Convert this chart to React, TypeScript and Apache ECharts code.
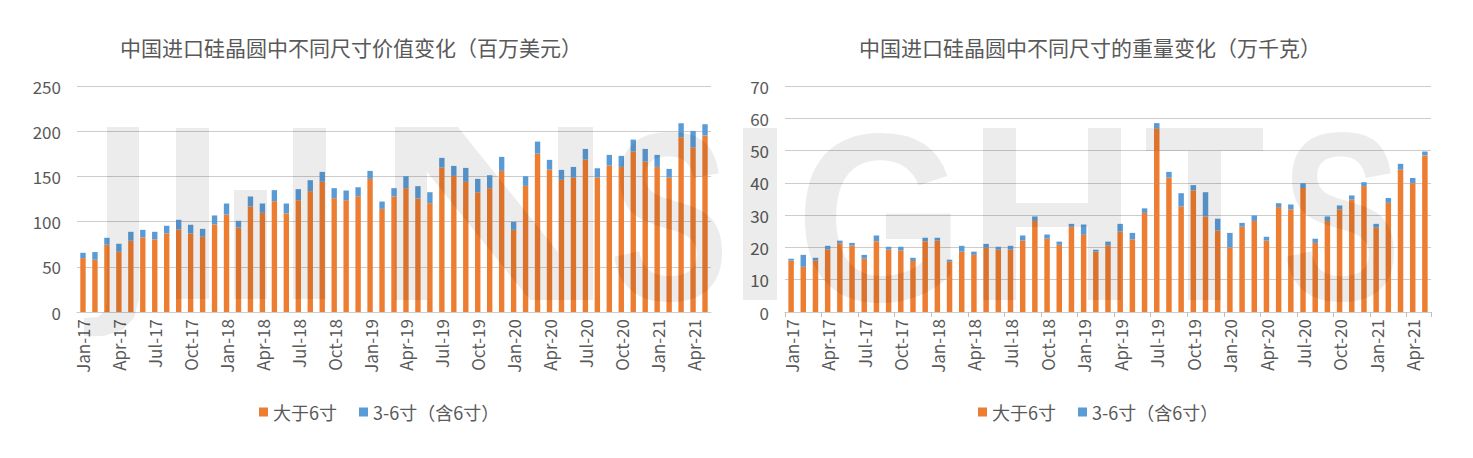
import React, { useEffect, useRef } from "react";
import * as echarts from "echarts";

const months = [
  "Jan-17","Feb-17","Mar-17","Apr-17","May-17","Jun-17","Jul-17","Aug-17","Sep-17","Oct-17","Nov-17","Dec-17",
  "Jan-18","Feb-18","Mar-18","Apr-18","May-18","Jun-18","Jul-18","Aug-18","Sep-18","Oct-18","Nov-18","Dec-18",
  "Jan-19","Feb-19","Mar-19","Apr-19","May-19","Jun-19","Jul-19","Aug-19","Sep-19","Oct-19","Nov-19","Dec-19",
  "Jan-20","Feb-20","Mar-20","Apr-20","May-20","Jun-20","Jul-20","Aug-20","Sep-20","Oct-20","Nov-20","Dec-20",
  "Jan-21","Feb-21","Mar-21","Apr-21","May-21",
];

const seriesNames = ["大于6寸", "3-6寸（含6寸）"];

// 价值（百万美元）
const valueLarge = [
  59.6, 57.8, 74.4, 66.6, 78.8, 82.5, 80.3, 86.9, 91.3, 86.9, 83.2, 96.8,
  107.9, 93.5, 116.7, 109.7, 122.6, 109.0, 123.7, 133.7, 144.0, 125.9, 123.7, 128.1,
  147.3, 114.1, 127.8, 137.0, 125.6, 120.4, 159.8, 150.6, 144.0, 132.5, 137.0, 156.1,
  90.9, 139.5, 175.3, 157.6, 146.2, 148.7, 168.6, 148.7, 162.0, 160.5, 177.5, 166.4,
  160.5, 148.7, 193.3, 181.9, 195.1,
];
const valueMid = [
  5.9, 8.5, 7.7, 8.9, 9.9, 8.4, 8.4, 8.5, 10.7, 9.6, 8.8, 10.0,
  12.1, 7.4, 11.1, 10.3, 12.2, 11.0, 12.2, 12.1, 11.0, 11.1, 10.7, 9.9,
  8.8, 8.1, 9.2, 13.2, 13.6, 12.1, 10.7, 11.0, 15.4, 14.8, 14.3, 15.5,
  8.9, 10.7, 13.2, 10.7, 11.0, 11.8, 11.8, 10.3, 11.8, 12.2, 13.2, 14.0,
  13.3, 9.6, 15.5, 18.4, 12.6,
];

// 重量（万千克）
const weightLarge = [
  15.9, 14.0, 15.9, 19.4, 21.3, 20.6, 16.5, 21.9, 19.3, 19.0, 15.8, 21.9,
  22.1, 15.6, 18.7, 17.7, 19.9, 19.3, 19.3, 22.1, 28.2, 22.7, 20.8, 26.4,
  23.9, 18.7, 20.7, 24.9, 22.5, 30.7, 56.8, 41.6, 32.7, 37.7, 29.6, 25.2,
  20.0, 26.4, 28.2, 22.1, 32.5, 31.8, 38.4, 21.4, 28.2, 31.8, 34.8, 39.0,
  26.1, 33.8, 44.1, 39.9, 48.5,
];
const weightMid = [
  0.6, 3.7, 0.9, 1.1, 0.8, 0.8, 1.2, 1.8, 0.9, 1.2, 1.0, 1.1,
  0.9, 0.6, 1.8, 1.0, 1.2, 0.9, 1.2, 1.6, 1.4, 1.3, 1.0, 0.9,
  3.2, 0.6, 1.1, 2.4, 2.0, 1.4, 1.7, 1.8, 4.1, 1.6, 7.5, 3.7,
  4.5, 1.2, 1.7, 1.2, 1.2, 1.5, 1.5, 1.3, 1.4, 1.2, 1.3, 1.2,
  1.2, 1.5, 1.8, 1.6, 1.2,
];

const titles = ["中国进口硅晶圆中不同尺寸价值变化（百万美元）", "中国进口硅晶圆中不同尺寸的重量变化（万千克）"];

const FONT = '"Noto Sans CJK SC", "Noto Sans", sans-serif';
const TEXT = "#595959";
const ORANGE = "#ED7D31";
const BLUE = "#5B9BD5";
const GRID = "#cccccc";
const WM = "rgba(0,0,0,0.075)";
const WM_FONT = 'bold 240px "Liberation Sans", Arial, sans-serif';

function wmRect(x: number, y: number, w: number, h: number) {
  return { type: "rect", silent: true, z: 100, shape: { x, y, width: w, height: h }, style: { fill: WM } };
}
function wmPoly(points: number[][]) {
  return { type: "polygon", silent: true, z: 100, shape: { points }, style: { fill: WM } };
}
function wmText(t: string, x: number, y: number, sx: number) {
  return {
    type: "text", silent: true, z: 100, x, y, scaleX: sx,
    style: { text: t, font: WM_FONT, fill: WM, textAlign: "center", textVerticalAlign: "middle" },
  };
}

export default function App() {
  const ref = useRef<HTMLDivElement>(null);
  useEffect(() => {
    document.body.style.margin = "0";
    if (!ref.current) return;
    const chart = echarts.init(ref.current, undefined, { renderer: "svg" });

    const xAxisBase = (gridIndex: number, ticks: boolean) => ({
      gridIndex,
      type: "category",
      data: months,
      axisLine: { show: true, lineStyle: { color: GRID, width: 1 } },
      axisTick: { show: ticks, interval: 2, length: 5, alignWithLabel: false, lineStyle: { color: "#bfbfbf" } },
      axisLabel: { interval: 2, rotate: 90, fontSize: 17, color: TEXT, margin: 7, fontFamily: FONT },
    });
    const yAxisBase = (gridIndex: number, max: number, interval: number) => ({
      gridIndex,
      type: "value",
      min: 0,
      max,
      interval,
      axisLine: { show: false },
      axisTick: { show: false },
      axisLabel: { fontSize: 17, color: TEXT, margin: 16, fontFamily: FONT },
      splitLine: { lineStyle: { color: GRID, width: 1 } },
    });
    const legendBase = (left: number) => ({
      left,
      top: 398,
      data: seriesNames,
      icon: "rect",
      itemWidth: 9,
      itemHeight: 9,
      itemGap: 22,
      textStyle: { fontSize: 18, color: TEXT, fontFamily: FONT },
    });
    const bar = (name: string, data: number[], color: string, idx: number) => ({
      name,
      type: "bar",
      stack: "s" + idx,
      xAxisIndex: idx,
      yAxisIndex: idx,
      data,
      barWidth: "45%",
      itemStyle: { color },
    });

    chart.setOption({
      animation: false,
      backgroundColor: "#ffffff",
      textStyle: { fontFamily: FONT },
      title: [
        { text: titles[0], left: 346, top: 31, textAlign: "center", textStyle: { fontSize: 21, fontWeight: "normal", color: TEXT, fontFamily: FONT } },
        { text: titles[1], left: 1085, top: 31, textAlign: "center", textStyle: { fontSize: 21, fontWeight: "normal", color: TEXT, fontFamily: FONT } },
      ],
      legend: [legendBase(254), legendBase(973)],
      grid: [
        { left: 77, right: 762, top: 86, bottom: 146, containLabel: false },
        { left: 785, right: 42, top: 86, bottom: 146, containLabel: false },
      ],
      xAxis: [xAxisBase(0, false), xAxisBase(1, true)],
      yAxis: [yAxisBase(0, 250, 50), yAxisBase(1, 70, 10)],
      series: [
        bar(seriesNames[0], valueLarge, ORANGE, 0),
        bar(seriesNames[1], valueMid, BLUE, 0),
        bar(seriesNames[0], weightLarge, ORANGE, 1),
        bar(seriesNames[1], weightMid, BLUE, 1),
      ],
      graphic: [
        wmPoly([[107,127],[139,127],[139,300],[134,318],[122,330],[104,336],[84,336],[84,318],[98,317],[106,310],[107,298]]),
        wmRect(176, 128, 33, 171),
        wmRect(234, 190, 33, 109),
        wmRect(293, 128, 33, 171),
        wmPoly([[395,300],[395,127],[458,127],[558,252],[558,127],[593,127],[593,300],[530,300],[427,172],[427,300]]),
        wmText("S", 669, 217, 0.75),
        wmRect(743, 128, 34, 172),
        wmText("G", 880, 217, 0.9),
        wmRect(983, 128, 33, 172),
        wmRect(1088, 128, 33, 172),
        wmRect(1016, 203, 72, 24),
        wmRect(1146, 128, 117, 23),
        wmRect(1188, 151, 33, 149),
        wmText("S", 1341, 217, 0.75),
      ],
    });
    return () => chart.dispose();
  }, []);
  return <div ref={ref} style={{ width: 1473, height: 458 }} />;
}
